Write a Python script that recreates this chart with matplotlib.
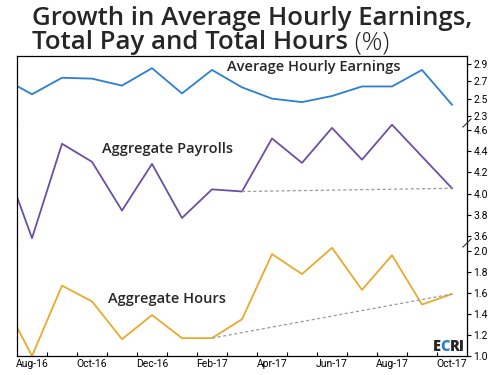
import numpy as np
import matplotlib
matplotlib.use("Agg")
import matplotlib.pyplot as plt

months = ["Jul-16", "Aug-16", "Sep-16", "Oct-16", "Nov-16", "Dec-16", "Jan-17", "Feb-17",
          "Mar-17", "Apr-17", "May-17", "Jun-17", "Jul-17", "Aug-17", "Sep-17", "Oct-17"]

hourly_earnings = [2.74, 2.55, 2.74, 2.73, 2.65, 2.85, 2.56, 2.83,
                   2.63, 2.50, 2.46, 2.53, 2.64, 2.64, 2.83, 2.43]
payrolls = [4.36, 3.58, 4.47, 4.30, 3.84, 4.28, 3.77, 4.04,
            4.02, 4.52, 4.29, 4.62, 4.32, 4.65, 4.35, 4.05]
hours = [1.55, 1.00, 1.67, 1.52, 1.16, 1.39, 1.17, 1.17,
         1.35, 1.97, 1.78, 2.03, 1.63, 1.96, 1.49, 1.59]

ahe_ticks = [2.3, 2.5, 2.7, 2.9]
pay_ticks = [3.6, 3.8, 4.0, 4.2, 4.4, 4.6]
hrs_ticks = [1.0, 1.2, 1.4, 1.6, 1.8, 2.0]

BLUE = "#2b7fcf"
PURPLE = "#6c4fa3"
ORANGE = "#e8aa2e"
GREY = "#9a9a9a"
INK = "#262626"

tick_font = ["Liberation Sans Narrow", "Roboto", "DejaVu Sans"]
label_font = ["Open Sans", "DejaVu Sans"]

fig = plt.figure(figsize=(4.95, 3.75), dpi=100)

left, width = 17 / 495, 450 / 495
def frac(y):
    return 1 - y / 375

ax1 = fig.add_axes([left, frac(123), width, frac(56) - frac(123)])
ax2 = fig.add_axes([left, frac(243), width, frac(123) - frac(243)])
ax3 = fig.add_axes([left, frac(356), width, frac(243) - frac(356)])

x = np.arange(len(months))

ax1.plot(x, hourly_earnings, color=BLUE, lw=1.3)
ax2.plot(x, payrolls, color=PURPLE, lw=1.3)
ax3.plot(x, hours, color=ORANGE, lw=1.3)

# dotted trend lines
ax2.plot([8, 15], [payrolls[8], payrolls[15]], color=GREY, lw=0.9, ls=(0, (2.5, 2)))
ax3.plot([7, 15], [hours[7], hours[15]], color=GREY, lw=0.9, ls=(0, (2.5, 2)))

ax1.set_ylim(2.22, 2.99)
ax2.set_ylim(3.534, 4.666)
ax3.set_ylim(1.0, 2.076)

for ax, ticks in [(ax1, ahe_ticks), (ax2, pay_ticks), (ax3, hrs_ticks)]:
    ax.set_xlim(0.5, 15.5)
    ax.yaxis.tick_right()
    ax.set_yticks(ticks)
    ax.set_yticklabels(["%.1f" % t for t in ticks], family=tick_font, fontsize=7.5)
    ax.tick_params(axis="y", direction="out", length=3, width=0.8, pad=1.5)
    for s in ax.spines.values():
        s.set_linewidth(0.9)
    ax.set_xticks([])

ax1.spines["bottom"].set_visible(False)
ax2.spines["top"].set_visible(False)
ax2.spines["bottom"].set_visible(False)
ax3.spines["top"].set_visible(False)

# month ticks at boundaries, labels every other month
ax3.set_xticks(np.arange(1.5, 15, 1.0), minor=True)
ax3.tick_params(axis="x", which="minor", direction="in", length=3, width=0.8)
ax3.set_xticks(x[1::2])
ax3.set_xticklabels(months[1::2], family=tick_font, fontsize=7.5)
ax3.tick_params(axis="x", which="major", length=0, pad=2)

# break marks on right axis
for yb in [123, 243]:
    fig.add_artist(plt.Line2D([463 / 495, 471 / 495], [frac(yb + 4), frac(yb - 4)],
                              color="#333333", lw=0.8))

ax1.text(10.4, 2.866, "Average Hourly Earnings", fontsize=10.5, family=label_font,
         fontweight=600, color=INK, ha="center", va="center")
ax2.text(5.5, 4.42, "Aggregate Payrolls", fontsize=10.5, family=label_font,
         fontweight=600, color=INK, ha="center", va="center")
ax3.text(5.5, 1.546, "Aggregate Hours", fontsize=10.5, family=label_font,
         fontweight=600, color=INK, ha="center", va="center")

# title
fig.text(32 / 495, frac(25), "Growth in Average Hourly Earnings,", fontsize=18.5,
         fontweight=600, family=label_font, color=INK, ha="left", va="baseline")
line2 = fig.text(32 / 495, frac(49), "Total Pay and Total Hours", fontsize=18.5,
                 fontweight=600, family=label_font, color=INK, ha="left", va="baseline")
ax1.annotate(" (%)", xy=(1, 0), xycoords=line2, fontsize=18.5, family=label_font,
             fontweight="light", color=INK, ha="left", va="bottom", annotation_clip=False)

# ECRI logo
e = ax3.text(14.35, 1.09, "E", fontsize=10.5, fontweight="heavy", family=label_font,
             color=INK, ha="left", va="center")
c = ax3.annotate("C", xy=(1, 0.5), xycoords=e, fontsize=10.5, fontweight="heavy",
                 family=label_font, color=BLUE, ha="left", va="center")
ax3.annotate("RI", xy=(1, 0.5), xycoords=c, fontsize=10.5, fontweight="heavy",
             family=label_font, color=INK, ha="left", va="center")

fig.savefig("out.png", dpi=100)
